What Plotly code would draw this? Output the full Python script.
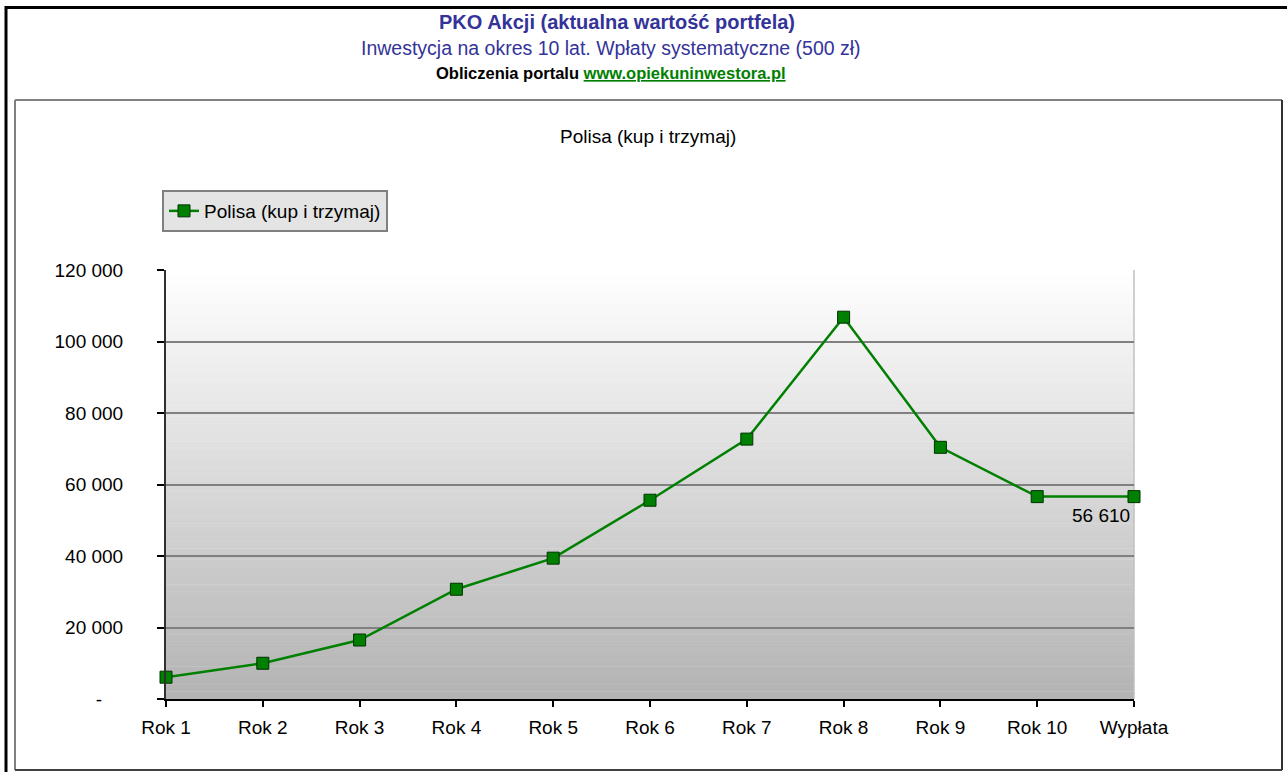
import plotly.graph_objects as go

categories = ["Rok 1", "Rok 2", "Rok 3", "Rok 4", "Rok 5", "Rok 6",
              "Rok 7", "Rok 8", "Rok 9", "Rok 10", "Wypłata"]
values = [6100, 10000, 16500, 30700, 39400, 55600, 72700, 106800, 70400, 56610, 56610]
series_name = "Polisa (kup i trzymaj)"
y_tick_vals = [0, 20000, 40000, 60000, 80000, 100000, 120000]
y_tick_text = ["-\u2007\u2007", "20 000", "40 000", "60 000", "80 000", "100 000", "120 000"]
final_label = "56 610"

W, H = 1287, 772
L, R, T, B = 166, 1134, 270, 699
FONT = "Liberation Sans, Arial, sans-serif"


def px(x):
    return (x - L) / (R - L)


def py(y):
    return (B - y) / (B - T)


fig = go.Figure()
fig.add_trace(go.Scatter(
    x=categories, y=values, name=series_name, mode="lines+markers",
    line=dict(color="#008000", width=2.5),
    marker=dict(symbol="square", size=12, color="#008000",
                line=dict(color="#003300", width=1)),
    cliponaxis=False,
))

shapes = []
# gradient background of plot area
n = 120
for i in range(n):
    t = i / n
    t2 = (i + 1) / n
    g = int(round(255 - (255 - 179) * (1 - (t + t2) / 2)))
    shapes.append(dict(type="rect", xref="x domain", yref="y domain",
                       x0=0, x1=1, y0=t, y1=t2 + 0.001,
                       fillcolor=f"rgb({g},{g},{g})", line=dict(width=0),
                       layer="below"))
# plot area right border (light)
shapes.append(dict(type="line", xref="paper", yref="paper", x0=1, x1=1, y0=0, y1=1,
                   line=dict(color="#c0c0c0", width=1.5), layer="below"))
# inner chart box
shapes.append(dict(type="line", xref="paper", yref="paper",
                   x0=px(15), x1=px(1282), y0=py(100), y1=py(100),
                   line=dict(color="#808080", width=2)))
shapes.append(dict(type="line", xref="paper", yref="paper",
                   x0=px(15), x1=px(15), y0=py(100), y1=py(770),
                   line=dict(color="#808080", width=2)))
shapes.append(dict(type="line", xref="paper", yref="paper",
                   x0=px(1282), x1=px(1282), y0=py(100), y1=py(770),
                   line=dict(color="#303030", width=2)))
shapes.append(dict(type="line", xref="paper", yref="paper",
                   x0=px(15), x1=px(1282), y0=py(770), y1=py(770),
                   line=dict(color="#404040", width=2)))
# outer black frame
shapes.append(dict(type="line", xref="paper", yref="paper",
                   x0=px(6), x1=px(6), y0=py(6), y1=py(775),
                   line=dict(color="#000000", width=3)))
shapes.append(dict(type="line", xref="paper", yref="paper",
                   x0=px(5), x1=px(1290), y0=py(7.5), y1=py(7.5),
                   line=dict(color="#000000", width=3)))

annotations = [
    dict(text="<b>PKO Akcji (aktualna wartość portfela)</b>", x=px(617), y=py(22),
         xref="paper", yref="paper", showarrow=False, xanchor="center", yanchor="middle",
         font=dict(family=FONT, size=20, color="#333399")),
    dict(text="Inwestycja na okres 10 lat. Wpłaty systematyczne (500 zł)", x=px(611), y=py(48),
         xref="paper", yref="paper", showarrow=False, xanchor="center", yanchor="middle",
         font=dict(family=FONT, size=19.5, color="#333399")),
    dict(text="<b>Obliczenia portalu <span style='color:#008000'><u>www.opiekuninwestora.pl</u></span></b>",
         x=px(611), y=py(73), xref="paper", yref="paper", showarrow=False,
         xanchor="center", yanchor="middle",
         font=dict(family=FONT, size=16.5, color="#000000")),
    dict(text=series_name, x=px(648), y=py(137), xref="paper", yref="paper",
         showarrow=False, xanchor="center", yanchor="middle",
         font=dict(family=FONT, size=19, color="#000000")),
    dict(text=final_label, x=categories[-1], y=values[-1], xref="x", yref="y",
         showarrow=False, xanchor="right", yanchor="top", xshift=-2, yshift=-6,
         font=dict(family=FONT, size=19, color="#000000")),
]

fig.update_layout(
    width=W, height=H,
    margin=dict(l=L, r=W - R, t=T, b=H - B, pad=0),
    paper_bgcolor="white", plot_bgcolor="rgba(0,0,0,0)",
    font=dict(family=FONT, size=19, color="#000000"),
    shapes=shapes, annotations=annotations,
    showlegend=True,
    legend=dict(x=px(162), y=py(190), xanchor="left", yanchor="top",
                bgcolor="#e4e4e4", bordercolor="#808080", borderwidth=2,
                font=dict(family=FONT, size=19, color="#000000"),
                itemwidth=30, tracegroupgap=0),
    xaxis=dict(type="category", range=[0, len(categories) - 1],
               showgrid=False, showline=True, linecolor="#000000", linewidth=2,
               ticks="outside", ticklen=6, tickwidth=1.5, tickcolor="#000000",
               tickfont=dict(family=FONT, size=19, color="#000000"),
               ticklabelstandoff=4, zeroline=False, fixedrange=True),
    yaxis=dict(range=[0, 120000], tickvals=y_tick_vals, ticktext=y_tick_text,
               showgrid=True, gridcolor="#808080", gridwidth=1.5,
               showline=True, linecolor="#303030", linewidth=2,
               ticks="outside", ticklen=7, tickwidth=1.5, tickcolor="#000000",
               tickfont=dict(family=FONT, size=19, color="#000000"),
               ticklabelstandoff=30, zeroline=False, fixedrange=True),
)

fig.write_html("out.html", config={"displayModeBar": False},
               post_script="document.body.style.margin='0';document.body.style.overflow='hidden';")
